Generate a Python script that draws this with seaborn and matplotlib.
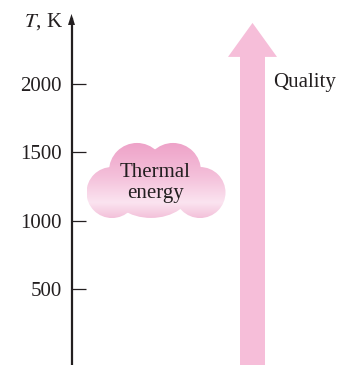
import matplotlib
matplotlib.use("Agg")
import matplotlib.pyplot as plt
import numpy as np
import seaborn as sns
from matplotlib.colors import LinearSegmentedColormap
from matplotlib.patches import Ellipse, FancyArrow, Polygon

# temperature axis
yticks = [500, 1000, 1500, 2000]
y_bottom, y_top = -59, 2616
axis_tip = 2514
k_per_px = 500 / 68.2  # kelvin per pixel on the vertical axis

# cloud "Thermal energy" built from a few bumps (x in px, T in K, radius in px)
cloud_x = [112, 137, 173, 200, 151]
cloud_t = [1205, 1363, 1363, 1205, 1224]
cloud_rx = [25.5, 28, 28, 25.5, 40]
cloud_ry = [25.5, 28, 28, 25.5, 28]
cloud_label = "Thermal\nenergy"
cloud_label_t = 1275

# quality arrow
quality_x = 252.5
quality_tip = 2448
quality_head_base = 2199
quality_label_t = 2015

sns.set_theme(style="white")
plt.rcParams["font.family"] = ["Liberation Serif", "DejaVu Serif"]
plt.rcParams["mathtext.fontset"] = "stix"

ink = "#231f20"
pink = "#f6bed9"

fig = plt.figure(figsize=(3.51, 3.65), dpi=100)
ax = fig.add_axes([0, 0, 1, 1])
ax.set_facecolor("white")

# gradient cloud, clipped to each bump
grad = LinearSegmentedColormap.from_list(
    "cloud",
    [(0.0, "#eea2c8"), (0.45, "#f4c0da"), (0.8, "#fbe4f0"), (1.0, "#f3c1da")],
)
t_hi = max(t + ry * k_per_px for t, ry in zip(cloud_t, cloud_ry))
t_lo = min(t - ry * k_per_px for t, ry in zip(cloud_t, cloud_ry))
x_lo = min(x - rx for x, rx in zip(cloud_x, cloud_rx))
x_hi = max(x + rx for x, rx in zip(cloud_x, cloud_rx))
img = np.linspace(0, 1, 200).reshape(-1, 1)
for x, t, rx, ry in zip(cloud_x, cloud_t, cloud_rx, cloud_ry):
    e = Ellipse((x, t), 2 * rx, 2 * ry * k_per_px, facecolor="none", edgecolor="none")
    ax.add_patch(e)
    im = ax.imshow(img, cmap=grad, aspect="auto", origin="upper",
                   extent=[x_lo, x_hi, t_lo, t_hi], zorder=2)
    im.set_clip_path(e)

ax.text(155, cloud_label_t, cloud_label, ha="center", va="center",
        fontsize=15, color=ink, linespacing=1.15, zorder=3)

# quality arrow
arrow = FancyArrow(quality_x, y_bottom - 200, 0, quality_tip - (y_bottom - 200),
                   width=25, head_width=49,
                   head_length=quality_tip - quality_head_base,
                   length_includes_head=True, color=pink, lw=0, zorder=2)
ax.add_patch(arrow)
ax.text(273, quality_label_t, "Quality", ha="left", va="center",
        fontsize=15, color=ink)

ax.set_xlim(0, 351)
ax.set_ylim(y_bottom, y_top)
ax.set_xticks([])
ax.set_yticks(yticks)
ax.set_yticklabels([str(v) for v in yticks])
sns.despine(ax=ax, top=True, right=True, bottom=True)
ax.spines["left"].set_position(("data", 71.5))
ax.spines["left"].set_bounds(y_bottom, axis_tip - 40)
ax.spines["left"].set_color(ink)
ax.spines["left"].set_linewidth(1.6)
ax.tick_params(axis="y", direction="in", length=10, width=0.9, color=ink,
               pad=7, labelsize=15, labelcolor=ink, left=True)

# arrowhead at the top of the axis
head = Polygon([[68, axis_tip - 81], [75, axis_tip - 81], [71.5, axis_tip]],
               closed=True, color=ink, lw=0, zorder=4)
ax.add_patch(head)
ax.text(63, 2460, "$T$, K", ha="right", va="center", fontsize=15, color=ink)

fig.savefig("out.png", dpi=100)
